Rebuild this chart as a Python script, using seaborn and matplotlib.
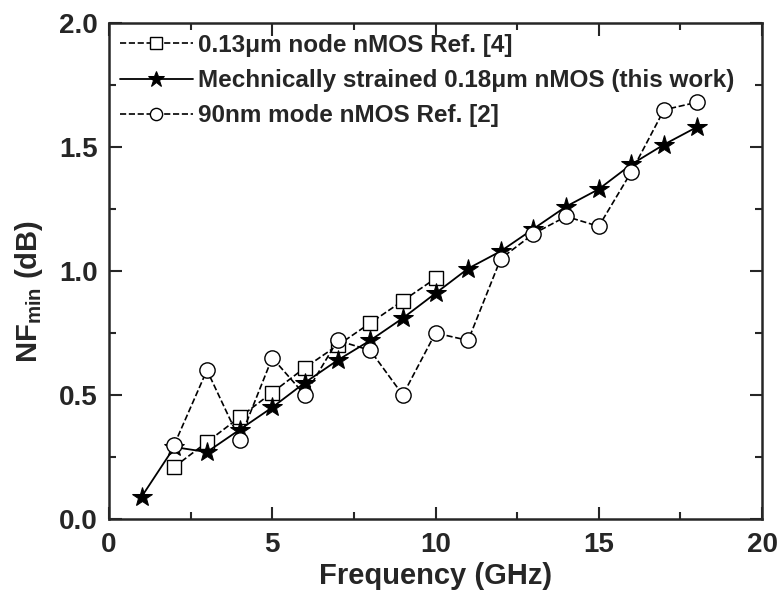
import matplotlib
matplotlib.use('Agg')
import matplotlib.pyplot as plt
import seaborn as sns
from matplotlib.ticker import MultipleLocator, FormatStrFormatter

freq_ref4 = [2, 3, 4, 5, 6, 7, 8, 9, 10]
nf_ref4 = [0.21, 0.31, 0.41, 0.51, 0.61, 0.70, 0.79, 0.88, 0.97]

freq_this = [1, 2, 3, 4, 5, 6, 7, 8, 9, 10, 11, 12, 13, 14, 15, 16, 17, 18]
nf_this = [0.09, 0.29, 0.27, 0.36, 0.45, 0.55, 0.64, 0.72, 0.81, 0.91,
           1.01, 1.08, 1.17, 1.26, 1.33, 1.43, 1.51, 1.58]

freq_ref2 = [2, 3, 4, 5, 6, 7, 8, 9, 10, 11, 12, 13, 14, 15, 16, 17, 18]
nf_ref2 = [0.30, 0.60, 0.32, 0.65, 0.50, 0.72, 0.68, 0.50, 0.75, 0.72,
           1.05, 1.15, 1.22, 1.18, 1.40, 1.65, 1.68]

labels = ['0.13\u03bcm node nMOS Ref. [4]',
          'Mechnically strained 0.18\u03bcm nMOS (this work)',
          '90nm mode nMOS Ref. [2]']

sns.set_style('ticks')
plt.rcParams['font.family'] = ['Liberation Sans', 'DejaVu Sans']
plt.rcParams['mathtext.fontset'] = 'custom'
plt.rcParams['mathtext.bf'] = 'Liberation Sans:bold'
plt.rcParams['mathtext.rm'] = 'Liberation Sans'

fig = plt.figure(figsize=(7.8, 5.94), dpi=100)
ax = fig.add_axes([109 / 780, 75 / 594, 653 / 780, 496 / 594])

sns.lineplot(x=freq_ref4, y=nf_ref4, ax=ax, color='black', linestyle='--', dashes=(5, 3),
             marker='s', markersize=10, markerfacecolor='white', markeredgecolor='black',
             markeredgewidth=1.0, linewidth=1.2, label=labels[0])
sns.lineplot(x=freq_this, y=nf_this, ax=ax, color='black', linestyle='-',
             marker='*', markersize=15, markerfacecolor='black', markeredgecolor='black',
             linewidth=1.3, label=labels[1])
sns.lineplot(x=freq_ref2, y=nf_ref2, ax=ax, color='black', linestyle='--', dashes=(5, 3),
             marker='o', markersize=11, markerfacecolor='white', markeredgecolor='black',
             markeredgewidth=1.0, linewidth=1.2, label=labels[2])

ax.set_xlim(0, 20)
ax.set_ylim(0, 2.0)
ax.xaxis.set_major_locator(MultipleLocator(5))
ax.xaxis.set_minor_locator(MultipleLocator(2.5))
ax.yaxis.set_major_locator(MultipleLocator(0.5))
ax.yaxis.set_minor_locator(MultipleLocator(0.25))
ax.yaxis.set_major_formatter(FormatStrFormatter('%.1f'))
ax.tick_params(which='both', direction='in', top=True, right=True, width=1.5)
ax.tick_params(which='major', length=9, labelsize=20)
ax.tick_params(axis='x', which='major', pad=9)
ax.tick_params(axis='y', which='major', pad=8)
ax.tick_params(which='minor', length=5)
for lbl in ax.get_xticklabels() + ax.get_yticklabels():
    lbl.set_fontweight('bold')
for sp in ax.spines.values():
    sp.set_linewidth(1.8)

ax.set_xlabel('Frequency (GHz)', fontsize=21, fontweight='bold', labelpad=3)
ax.set_ylabel('NF$_{\\mathbf{min}}$ (dB)', fontsize=21, fontweight='bold')
ax.yaxis.set_label_coords(-0.098, 0.458)

ax.legend(loc='upper left', frameon=False, handlelength=3.0, markerscale=0.8,
          handletextpad=0.2, borderaxespad=0.2, borderpad=0.25, labelspacing=0.5,
          prop={'size': 17.5, 'weight': 'bold'})

fig.savefig('out.png', dpi=100)
